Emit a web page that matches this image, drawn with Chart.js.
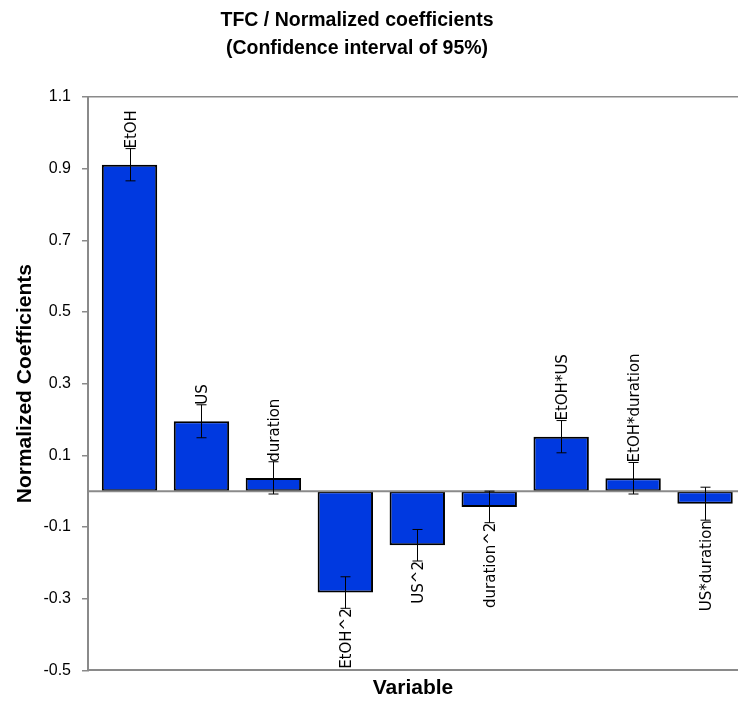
<!DOCTYPE html>
<html>
<head>
<meta charset="utf-8">
<script src="https://cdn.jsdelivr.net/npm/chart.js@4"></script>
<style>
  html, body { margin: 0; padding: 0; background: #fff; }
  #wrap { width: 738px; height: 702px; }
</style>
</head>
<body>
<div id="wrap"><canvas id="myChart" width="738" height="702"></canvas></div>
<script>
// values
const variables = ['EtOH', 'US', 'duration', 'EtOH^2', 'US^2', 'duration^2', 'EtOH*US', 'EtOH*duration', 'US*duration'];
const coefficients = [0.911, 0.195, 0.037, -0.283, -0.151, -0.044, 0.152, 0.036, -0.035];
const confidence = [0.045, 0.046, 0.045, 0.044, 0.044, 0.044, 0.045, 0.044, 0.046];
const titleLines = ['TFC / Normalized coefficients', '(Confidence interval of 95%)'];

const axisGray = '#8a8a8a';

// chart title, a bit left of the canvas centre like the original
const titlePlugin = {
  id: 'leftTitle',
  afterDraw(chart) {
    const ctx = chart.ctx;
    ctx.save();
    ctx.fillStyle = '#000';
    ctx.font = 'bold 19.5px "Liberation Sans", Arial, sans-serif';
    ctx.textAlign = 'center';
    ctx.textBaseline = 'middle';
    titleLines.forEach((t, i) => ctx.fillText(t, 357, 21 + i * 28));
    ctx.restore();
  }
};

// error bars, zero line and variable names
const errorBarPlugin = {
  id: 'errorBars',
  afterDatasetsDraw(chart) {
    const ctx = chart.ctx;
    const yScale = chart.scales.y;
    const area = chart.chartArea;
    const meta = chart.getDatasetMeta(0);

    // zero line
    let y0 = yScale.getPixelForValue(0);
    ctx.save();
    ctx.strokeStyle = axisGray;
    ctx.lineWidth = 2;
    ctx.beginPath();
    ctx.moveTo(area.left, y0);
    ctx.lineTo(area.right, y0);
    ctx.stroke();

    ctx.strokeStyle = '#000';
    ctx.lineWidth = 1;
    ctx.fillStyle = '#000';
    ctx.font = '15px "DejaVu Sans"';
    ctx.textBaseline = 'middle';

    meta.data.forEach((bar, i) => {
      let v = coefficients[i];
      let hi = yScale.getPixelForValue(v + confidence[i]);
      let lo = yScale.getPixelForValue(v - confidence[i]);
      let x = Math.round(bar.x) + 0.5;
      ctx.beginPath();
      ctx.moveTo(x, hi);
      ctx.lineTo(x, lo);
      ctx.moveTo(x - 5, hi);
      ctx.lineTo(x + 5, hi);
      ctx.moveTo(x - 5, lo);
      ctx.lineTo(x + 5, lo);
      ctx.stroke();

      ctx.save();
      if (v >= 0) {
        ctx.translate(x, hi);
        ctx.rotate(-Math.PI / 2);
        ctx.textAlign = 'left';
        ctx.fillText(variables[i], 0, 2);
      } else {
        ctx.translate(x, lo);
        ctx.rotate(-Math.PI / 2);
        ctx.textAlign = 'right';
        ctx.fillText(variables[i], 0, 2);
      }
      ctx.restore();
    });
    ctx.restore();
  }
};

const chrt = document.getElementById('myChart');

const data = {
  datasets: [{
    label: 'Normalized coefficients',
    data: coefficients.map((v, i) => ({ x: i, y: v })),
    backgroundColor: '#0039e0',
    borderColor: '#000000',
    borderWidth: 2,
    borderSkipped: false,
    barPercentage: 0.77,
    categoryPercentage: 1.0
  }]
};

new Chart(chrt, {
  type: 'bar',
  data: data,
  options: {
    responsive: false,
    animation: false,
    layout: {
      padding: { left: 0, right: 0, top: 97, bottom: 0 }
    },
    plugins: {
      legend: { display: false },
      tooltip: { enabled: false },
      title: { display: false }
    },
    scales: {
      x: {
        type: 'linear',
        min: -0.577,
        max: 8.458,
        offset: false,
        grid: { display: false, drawTicks: false },
        border: { display: true, color: axisGray, width: 2 },
        ticks: { display: false },
        title: {
          display: true,
          text: 'Variable',
          color: '#000',
          font: { family: '"Liberation Sans", Arial, sans-serif', size: 21, weight: 'bold' },
          padding: { top: 5, bottom: 1.5 }
        }
      },
      y: {
        min: -0.5,
        max: 1.1,
        ticks: {
          stepSize: 0.2,
          color: '#000',
          padding: 11,
          font: { family: '"Liberation Sans", Arial, sans-serif', size: 16 },
          callback: (value) => Number(value).toFixed(1)
        },
        grid: {
          color: (c) => (c.index === 8 ? axisGray : 'rgba(0,0,0,0)'),
          tickColor: axisGray,
          tickLength: 6,
          lineWidth: 1.5
        },
        border: { display: true, color: axisGray, width: 2 },
        title: {
          display: true,
          text: 'Normalized Coefficients',
          color: '#000',
          font: { family: '"Liberation Sans", Arial, sans-serif', size: 21, weight: 'bold' },
          padding: { top: 13, bottom: 0 }
        },
        afterFit: (scale) => { scale.width = 88; }
      }
    }
  },
  plugins: [errorBarPlugin, titlePlugin]
});
</script>
</body>
</html>
